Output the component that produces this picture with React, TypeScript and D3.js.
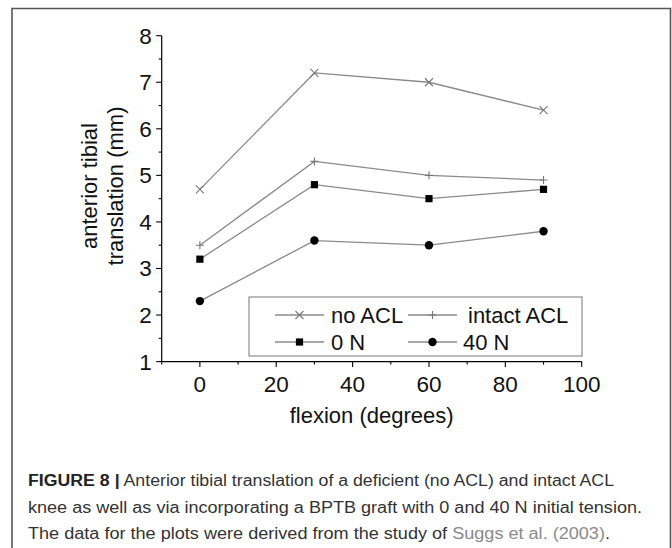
import React from "react";
import * as d3 from "d3";

const flexion = [0, 30, 60, 90];
const noACL = [4.7, 7.2, 7.0, 6.4];
const intactACL = [3.5, 5.3, 5.0, 4.9];
const zeroN = [3.2, 4.8, 4.5, 4.7];
const fortyN = [2.3, 3.6, 3.5, 3.8];
const seriesNames = ["no ACL", "intact ACL", "0 N", "40 N"];
const xTicks = [0, 20, 40, 60, 80, 100];
const xMinor = [-10, 10, 30, 50, 70, 90];
const yTicks = [1, 2, 3, 4, 5, 6, 7, 8];
const yMinor = [1.5, 2.5, 3.5, 4.5, 5.5, 6.5, 7.5];

const W = 672;
const H = 548;
const FONT = "'Liberation Sans', Arial, sans-serif";
const LINE = "#8a8a8a";

function Marker({ kind, x, y }: { kind: string; x: number; y: number }) {
  if (kind === "x") {
    const s = 4;
    return (
      <path
        d={`M${x - s},${y - s}L${x + s},${y + s}M${x - s},${y + s}L${x + s},${y - s}`}
        stroke="#777"
        strokeWidth={1.1}
        fill="none"
      />
    );
  }
  if (kind === "+") {
    const s = 4;
    return (
      <path
        d={`M${x - s},${y}L${x + s},${y}M${x},${y - s}L${x},${y + s}`}
        stroke="#777"
        strokeWidth={1.1}
        fill="none"
      />
    );
  }
  if (kind === "s") {
    const s = 3.6;
    return <rect x={x - s} y={y - s} width={2 * s} height={2 * s} fill="#000" />;
  }
  return <circle cx={x} cy={y} r={4.2} fill="#000" />;
}

export default function App() {
  const x = d3.scaleLinear().domain([-10, 100]).range([161.7, 581.7]);
  const y = d3.scaleLinear().domain([1, 8]).range([361.6, 35.7]);
  const series = [
    { name: seriesNames[0], values: noACL, kind: "x" },
    { name: seriesNames[1], values: intactACL, kind: "+" },
    { name: seriesNames[2], values: zeroN, kind: "s" },
    { name: seriesNames[3], values: fortyN, kind: "o" },
  ];
  const line = d3
    .line<number>()
    .x((_, i) => x(flexion[i]))
    .y((d) => y(d));

  const legendPos = [
    { lx: 275, tx: 331, cy: 315 },
    { lx: 408, tx: 468, cy: 315 },
    { lx: 275, tx: 331, cy: 342 },
    { lx: 408, tx: 463, cy: 342 },
  ];

  return (
    <svg
      width={W}
      height={H}
      style={{ position: "absolute", left: 0, top: 0, background: "#fff" }}
      fontFamily={FONT}
    >
      <rect x={0} y={0} width={W} height={H} fill="#fff" />
      {/* frame */}
      <path d={`M12,${H + 2}L12,8.5L670.5,8.5L670.5,${H + 2}`} stroke="#555" strokeWidth={1.6} fill="none" />

      {/* axes */}
      <line x1={x(-10)} x2={x(100)} y1={y(1)} y2={y(1)} stroke="#000" strokeWidth={1.2} />
      <line x1={x(-10)} x2={x(-10)} y1={y(1)} y2={y(8)} stroke="#000" strokeWidth={1.2} />
      {xTicks.map((t) => (
        <g key={"xt" + t}>
          <line x1={x(t)} x2={x(t)} y1={y(1)} y2={y(1) + 5.5} stroke="#000" strokeWidth={1.1} />
          <text x={x(t)} y={y(1) + 30} fontSize={22.5} textAnchor="middle" fill="#111">
            {t}
          </text>
        </g>
      ))}
      {xMinor.map((t) => (
        <line key={"xm" + t} x1={x(t)} x2={x(t)} y1={y(1)} y2={y(1) + 3} stroke="#000" strokeWidth={1.1} />
      ))}
      {yTicks.map((t) => (
        <g key={"yt" + t}>
          <line x1={x(-10) - 5.5} x2={x(-10)} y1={y(t)} y2={y(t)} stroke="#000" strokeWidth={1.1} />
          <text x={x(-10) - 10} y={y(t) + 8} fontSize={22.5} textAnchor="end" fill="#111">
            {t}
          </text>
        </g>
      ))}
      {yMinor.map((t) => (
        <line key={"ym" + t} x1={x(-10) - 3} x2={x(-10)} y1={y(t)} y2={y(t)} stroke="#000" strokeWidth={1.1} />
      ))}

      {/* axis titles */}
      <text x={(x(-10) + x(100)) / 2} y={423} fontSize={22} textAnchor="middle" fill="#111">
        flexion (degrees)
      </text>
      <g transform="translate(0,186) rotate(-90)">
        <text x={0} y={97} fontSize={22} textAnchor="middle" fill="#111">
          anterior tibial
        </text>
        <text x={0} y={123} fontSize={22} textAnchor="middle" fill="#111">
          translation (mm)
        </text>
      </g>

      {/* series */}
      {series.map((s) => (
        <g key={s.name}>
          <path d={line(s.values) || ""} stroke={LINE} strokeWidth={1.3} fill="none" />
          {s.values.map((v, i) => (
            <Marker key={i} kind={s.kind} x={x(flexion[i])} y={y(v)} />
          ))}
        </g>
      ))}

      {/* legend */}
      <rect x={249} y={297} width={333} height={59} fill="#fff" stroke="#777" strokeWidth={1} />
      {series.map((s, i) => {
        const p = legendPos[i];
        return (
          <g key={"lg" + s.name}>
            <line x1={p.lx} x2={p.lx + 49} y1={p.cy} y2={p.cy} stroke={LINE} strokeWidth={1.3} />
            <Marker kind={s.kind} x={p.lx + 24.5} y={p.cy} />
            <text x={p.tx} y={p.cy + 8} fontSize={22} fill="#111">
              {s.name}
            </text>
          </g>
        );
      })}

      {/* caption */}
      <g fontSize={16} fill="#333">
        <text x={28} y={486} textLength={586} lengthAdjust="spacingAndGlyphs">
          <tspan fontWeight="bold" fill="#222">FIGURE 8 |</tspan>
          <tspan> Anterior tibial translation of a deficient (no ACL) and intact ACL</tspan>
        </text>
        <text x={28} y={513} textLength={614} lengthAdjust="spacingAndGlyphs">
          knee as well as via incorporating a BPTB graft with 0 and 40 N initial tension.
        </text>
        <text x={28} y={539} textLength={582} lengthAdjust="spacingAndGlyphs">
          <tspan>The data for the plots were derived from the study of </tspan>
          <tspan fill="#8a8a8a">Suggs et al. (2003)</tspan>
          <tspan>.</tspan>
        </text>
      </g>
    </svg>
  );
}
